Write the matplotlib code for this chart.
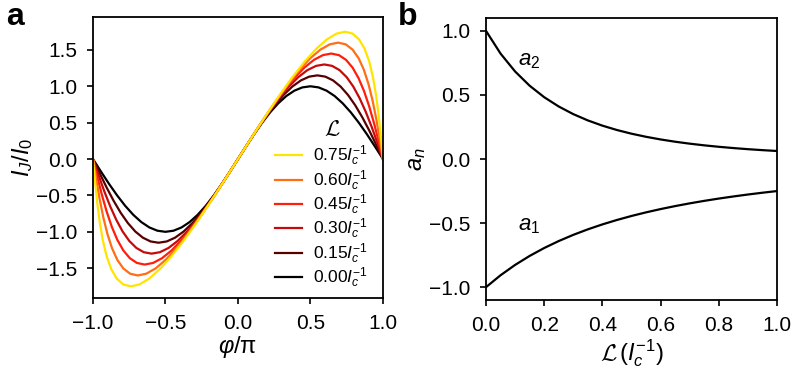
import matplotlib.pyplot as plt

plt.rcParams['font.family'] = ['Liberation Sans', 'DejaVu Sans']
plt.rcParams['mathtext.fontset'] = 'custom'
plt.rcParams['mathtext.rm'] = 'Liberation Sans'
plt.rcParams['mathtext.it'] = 'Liberation Sans:italic'
plt.rcParams['mathtext.bf'] = 'Liberation Sans:bold'
plt.rcParams['mathtext.cal'] = 'cmsy10'

# panel a: current-phase curves (phi/pi, I_J/I_0)
ind_labels = ['0.00', '0.15', '0.30', '0.45', '0.60', '0.75']
colors = ['#000000', '#560000', '#c40a0a', '#ff1e0a', '#ff6e14', '#ffe400']

phi_00 = [-1.0, -.9444, -.8889, -.8333, -.7778, -.7222, -.6667, -.6111, -.5556, -.5,
          -.4444, -.3889, -.3333, -.2778, -.2222, -.1667, -.1111, -.0556, 0.0,
          .0556, .1111, .1667, .2222, .2778, .3333, .3889, .4444, .5,
          .5556, .6111, .6667, .7222, .7778, .8333, .8889, .9444, 1.0]
cur_00 = [0.0, -.1736, -.3420, -.5, -.6428, -.7660, -.8660, -.9397, -.9848, -1.0,
          -.9848, -.9397, -.8660, -.7660, -.6428, -.5, -.3420, -.1736, 0.0,
          .1736, .3420, .5, .6428, .7660, .8660, .9397, .9848, 1.0,
          .9848, .9397, .8660, .7660, .6428, .5, .3420, .1736, 0.0]

phi_15 = [-1.0, -.9527, -.9052, -.8572, -.8085, -.7588, -.7080, -.6560, -.6026, -.5477,
          -.4914, -.4338, -.3747, -.3144, -.2529, -.1905, -.1274, -.0639, 0.0,
          .0639, .1274, .1905, .2529, .3144, .3747, .4338, .4914, .5477,
          .6026, .6560, .7080, .7588, .8085, .8572, .9052, .9527, 1.0]
cur_15 = [0.0, -.1997, -.3933, -.575, -.7392, -.8809, -.9959, -1.0806, -1.1325, -1.15,
          -1.1325, -1.0806, -.9959, -.8809, -.7392, -.575, -.3933, -.1997, 0.0,
          .1997, .3933, .575, .7392, .8809, .9959, 1.0806, 1.1325, 1.15,
          1.1325, 1.0806, .9959, .8809, .7392, .575, .3933, .1997, 0.0]

phi_30 = [-1.0, -.9610, -.9216, -.8811, -.8391, -.7954, -.7494, -.7008, -.6496, -.5955,
          -.5385, -.4786, -.4160, -.3509, -.2836, -.2144, -.1438, -.0722, 0.0,
          .0722, .1438, .2144, .2836, .3509, .4160, .4786, .5385, .5955,
          .6496, .7008, .7494, .7954, .8391, .8811, .9216, .9610, 1.0]
cur_30 = [0.0, -.2257, -.4446, -.65, -.8356, -.9959, -1.1258, -1.2216, -1.2803, -1.3,
          -1.2803, -1.2216, -1.1258, -.9959, -.8356, -.65, -.4446, -.2257, 0.0,
          .2257, .4446, .65, .8356, .9959, 1.1258, 1.2216, 1.2803, 1.3,
          1.2803, 1.2216, 1.1258, .9959, .8356, .65, .4446, .2257, 0.0]

phi_45 = [-1.0, -.9693, -.9379, -.9049, -.8699, -.8319, -.7907, -.7457, -.6966, -.6432,
          -.5855, -.5235, -.4574, -.3875, -.3143, -.2383, -.1601, -.0804, 0.0,
          .0804, .1601, .2383, .3143, .3875, .4574, .5235, .5855, .6432,
          .6966, .7457, .7907, .8319, .8699, .9049, .9379, .9693, 1.0]
cur_45 = [0.0, -.2518, -.4959, -.725, -.9320, -1.1108, -1.2557, -1.3626, -1.4280, -1.45,
          -1.4280, -1.3626, -1.2557, -1.1108, -.9320, -.725, -.4959, -.2518, 0.0,
          .2518, .4959, .725, .9320, 1.1108, 1.2557, 1.3626, 1.4280, 1.45,
          1.4280, 1.3626, 1.2557, 1.1108, .9320, .725, .4959, .2518, 0.0]

phi_60 = [-1.0, -.9776, -.9542, -.9288, -.9005, -.8685, -.8321, -.7906, -.7437, -.6910,
          -.6325, -.5684, -.4987, -.4241, -.3450, -.2622, -.1764, -.0887, 0.0,
          .0887, .1764, .2622, .3450, .4241, .4987, .5684, .6325, .6910,
          .7437, .7906, .8321, .8685, .9005, .9288, .9542, .9776, 1.0]
cur_60 = [0.0, -.2778, -.5472, -.8, -1.0285, -1.2257, -1.3856, -1.5035, -1.5757, -1.6,
          -1.5757, -1.5035, -1.3856, -1.2257, -1.0285, -.8, -.5472, -.2778, 0.0,
          .2778, .5472, .8, 1.0285, 1.2257, 1.3856, 1.5035, 1.5757, 1.6,
          1.5757, 1.5035, 1.3856, 1.2257, 1.0285, .8, .5472, .2778, 0.0]

phi_75 = [-1.0, -.9859, -.9706, -.9527, -.9312, -.9051, -.8734, -.8354, -.7907, -.7387,
          -.6795, -.6132, -.5401, -.4607, -.3757, -.2860, -.1928, -.0970, 0.0,
          .0970, .1928, .2860, .3757, .4607, .5401, .6132, .6795, .7387,
          .7907, .8354, .8734, .9051, .9312, .9527, .9706, .9859, 1.0]
cur_75 = [0.0, -.3039, -.5985, -.875, -1.1249, -1.3406, -1.5156, -1.6445, -1.7234, -1.75,
          -1.7234, -1.6445, -1.5156, -1.3406, -1.1249, -.875, -.5985, -.3039, 0.0,
          .3039, .5985, .875, 1.1249, 1.3406, 1.5156, 1.6445, 1.7234, 1.75,
          1.7234, 1.6445, 1.5156, 1.3406, 1.1249, .875, .5985, .3039, 0.0]

phis = [phi_00, phi_15, phi_30, phi_45, phi_60, phi_75]
curs = [cur_00, cur_15, cur_30, cur_45, cur_60, cur_75]

# panel b: harmonic amplitudes vs inductance
ind_b = [0.0, .05, .10, .15, .20, .25, .30, .35, .40, .45, .50,
         .55, .60, .65, .70, .75, .80, .85, .90, .95, 1.0]
a1 = [-1.0, -.9070, -.8264, -.7561, -.6944, -.6400, -.5917, -.5487, -.5102, -.4756, -.4444,
      -.4162, -.3906, -.3673, -.3460, -.3265, -.3086, -.2922, -.2770, -.2630, -.2500]
a2 = [1.0, .8227, .6830, .5718, .4823, .4096, .3501, .3011, .2603, .2262, .1975,
      .1733, .1526, .1349, .1197, .1066, .0953, .0854, .0767, .0692, .0625]

fig = plt.figure(figsize=(7.98, 3.73), dpi=100)
ax_a = fig.add_axes([0.1165, 0.201, 0.3634, 0.753])
ax_b = fig.add_axes([0.609, 0.1957, 0.3647, 0.756])

lines = []
for x, y, c, lab in zip(phis, curs, colors, ind_labels):
    ln, = ax_a.plot(x, y, color=c, lw=1.6, label=lab + r'$I_c^{-1}$')
    lines.append(ln)

ax_a.set_xlim(-1, 1)
ax_a.set_ylim(-1.91, 1.95)
ax_a.set_xticks([-1, -0.5, 0, 0.5, 1])
ax_a.set_yticks([-1.5, -1.0, -0.5, 0.0, 0.5, 1.0, 1.5])
ax_a.set_xlabel(r'$\varphi$/π', fontsize=17, labelpad=1)
ax_a.set_ylabel(r'$I_J/I_0$', fontsize=17, labelpad=1)
ax_a.legend(lines[::-1], [l.get_label() for l in lines[::-1]], loc='lower right',
            bbox_to_anchor=(0.966, 0.009), borderaxespad=0,
            frameon=False, fontsize=12.5, handlelength=1.55, handletextpad=0.63,
            labelspacing=0.0, borderpad=0.3)
ax_a.text(0.826, 0.595, r'$\mathcal{L}$', transform=ax_a.transAxes,
          fontsize=16, ha='center', va='center')

ax_b.plot(ind_b, a2, color='black', lw=1.6)
ax_b.plot(ind_b, a1, color='black', lw=1.6)
ax_b.set_xlim(0, 1)
ax_b.set_ylim(-1.1, 1.1)
ax_b.set_xticks([0, 0.2, 0.4, 0.6, 0.8, 1.0])
ax_b.set_yticks([-1.0, -0.5, 0.0, 0.5, 1.0])
ax_b.set_xlabel(r'$\mathcal{L}\,(I_c^{-1})$', fontsize=17, labelpad=2)
ax_b.set_ylabel(r'$a_n$', fontsize=17, labelpad=1)
ax_b.text(0.11, 0.77, r'$a_2$', fontsize=16, ha='left', va='center')
ax_b.text(0.11, -0.52, r'$a_1$', fontsize=16, ha='left', va='center')

for ax in (ax_a, ax_b):
    ax.tick_params(direction='out', length=4.3, width=1.2, labelsize=15, pad=7)
    for s in ax.spines.values():
        s.set_linewidth(1.3)

fig.text(0.008, 0.932, 'a', fontsize=23, fontweight='bold', va='baseline')
fig.text(0.499, 0.932, 'b', fontsize=23, fontweight='bold', va='baseline')

fig.savefig('out.png', dpi=100)
